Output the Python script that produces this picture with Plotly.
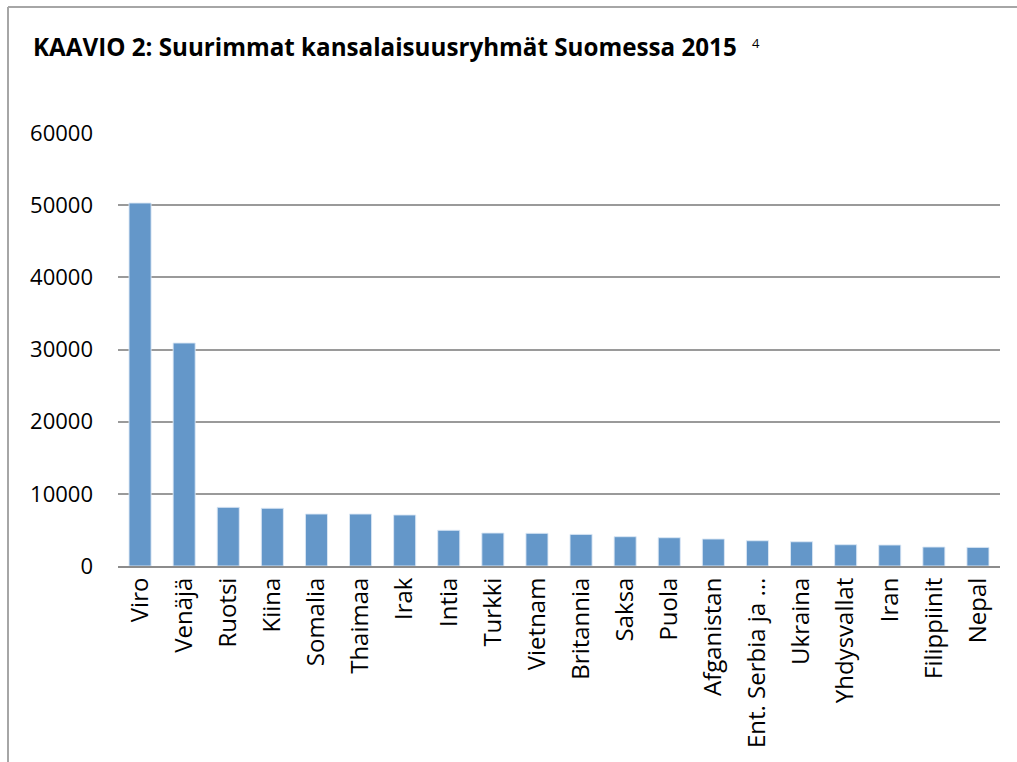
import plotly.graph_objects as go

countries = ["Viro", "Venäjä", "Ruotsi", "Kiina", "Somalia", "Thaimaa", "Irak", "Intia",
             "Turkki", "Vietnam", "Britannia", "Saksa", "Puola", "Afganistan",
             "Ent. Serbia ja ...", "Ukraina", "Yhdysvallat", "Iran", "Filippiinit", "Nepal"]
values = [50300, 30900, 8130, 8000, 7200, 7200, 7070, 4950, 4570, 4530, 4380, 4060,
          3920, 3740, 3500, 3360, 2950, 2910, 2630, 2580]
y_ticks = [0, 10000, 20000, 30000, 40000, 50000, 60000]

W, H = 1017, 762
L, R, T, B = 118, 17, 133, 196
pw, ph = W - L - R, H - T - B

def px_x(x):
    return (x - L) / pw

def px_y(y):
    return (H - B - y) / ph

fig = go.Figure(go.Bar(
    x=countries, y=values,
    marker=dict(color="#6497C9", line=dict(color="rgba(220,232,245,0.9)", width=1)),
    width=0.5,
))

fig.update_layout(
    width=W, height=H,
    margin=dict(l=L, r=R, t=T, b=B),
    paper_bgcolor="white", plot_bgcolor="white",
    showlegend=False,
    font=dict(family="Open Sans", color="black"),
    xaxis=dict(
        type="category", tickangle=-90, showgrid=False,
        tickfont=dict(family="Open Sans", size=24, color="black"),
        showline=True, linecolor="#8c8c8c", linewidth=2,
        ticks="", ticklabelstandoff=0,
    ),
    yaxis=dict(
        range=[0, 60000], tickvals=y_ticks, ticktext=[str(v) for v in y_ticks],
        showgrid=True, gridcolor="#9a9a9a", gridwidth=1.5,
        zeroline=False, showline=False,
        tickfont=dict(family="Open Sans", size=22, color="black"),
        ticks="", ticklabelstandoff=24,
    ),
    shapes=[
        dict(type="line", xref="paper", yref="paper",
             x0=px_x(8), x1=px_x(W + 2), y0=px_y(7), y1=px_y(7),
             line=dict(color="#a6a6a6", width=2)),
        dict(type="line", xref="paper", yref="paper",
             x0=px_x(8), x1=px_x(8), y0=px_y(7), y1=px_y(H + 2),
             line=dict(color="#a6a6a6", width=2)),
    ],
    annotations=[
        dict(xref="paper", yref="paper", x=px_x(31), y=px_y(65),
             xanchor="left", yanchor="bottom", showarrow=False,
             text="<b>KAAVIO 2: Suurimmat kansalaisuusryhmät Suomessa 2015</b>",
             font=dict(family="Open Sans", size=24.2, color="black")),
        dict(xref="paper", yref="paper", x=px_x(750), y=px_y(54),
             xanchor="left", yanchor="bottom", showarrow=False,
             text="4", font=dict(family="Open Sans", size=13, color="black")),
    ],
)

fig.write_html("out.html", config={"displayModeBar": False},
               post_script="document.body.style.margin='0';document.body.style.overflow='hidden';")
